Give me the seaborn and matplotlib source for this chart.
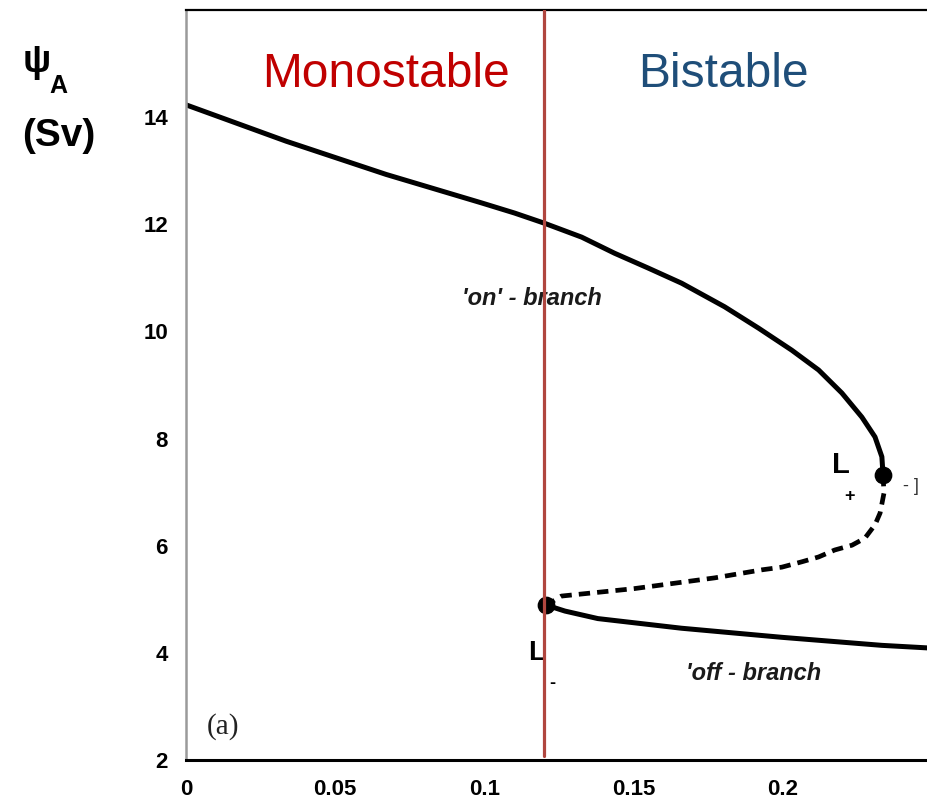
import matplotlib
matplotlib.use("Agg")
import matplotlib.pyplot as plt
import seaborn as sns
import pandas as pd

# ---- data ----
on_mu = [0.0, 0.0336, 0.0671, 0.099, 0.1101, 0.1201, 0.1326, 0.1436, 0.155,
         0.1661, 0.1805, 0.1919, 0.203, 0.212, 0.2198, 0.2265, 0.2309,
         0.2332, 0.2336]
on_psi = [14.23, 13.55, 12.93, 12.40, 12.21, 12.02, 11.76, 11.46, 11.18,
          10.90, 10.46, 10.06, 9.65, 9.28, 8.85, 8.40, 8.03, 7.66, 7.32]

unst_mu = [0.2336, 0.2339, 0.2326, 0.2309, 0.2275, 0.2232, 0.2174, 0.212,
           0.2064, 0.1997, 0.193, 0.1772, 0.1503, 0.1258, 0.1208]
unst_psi = [7.32, 6.98, 6.61, 6.39, 6.14, 6.01, 5.92, 5.79, 5.70, 5.60,
            5.55, 5.40, 5.20, 5.06, 4.89]

off_mu = [0.1208, 0.127, 0.138, 0.166, 0.1997, 0.2332, 0.2493]
off_psi = [4.89, 4.78, 4.64, 4.46, 4.29, 4.14, 4.09]

fold_mu = [0.2336, 0.1208]
fold_psi = [7.32, 4.89]
fold_names = ["L+", "L-"]

boundary_mu = 0.12
xticks = [0, 0.05, 0.1, 0.15, 0.2]
xticklabels = ["0", "0.05", "0.1", "0.15", "0.2"]
yticks = [2, 4, 6, 8, 10, 12, 14]
region_labels = ["Monostable", "Bistable"]

sns.set_style("white")
plt.rcParams["font.family"] = ["Liberation Sans", "DejaVu Sans"]
plt.rcParams["text.color"] = "black"
plt.rcParams["xtick.labelcolor"] = "black"
plt.rcParams["ytick.labelcolor"] = "black"

W, H = 928, 795
fig = plt.figure(figsize=(W / 100, H / 100), dpi=100)
ax_left, ax_bottom, ax_top = 186, 760, 10
ax = fig.add_axes([ax_left / W, (H - ax_bottom) / H, 746 / W, (ax_bottom - ax_top) / H])
ax.set_xlim(0, 0.25)
ax.set_ylim(2, 16)

on_df = pd.DataFrame({"mu": on_mu, "psi": on_psi})
unst_df = pd.DataFrame({"mu": unst_mu, "psi": unst_psi})
off_df = pd.DataFrame({"mu": off_mu, "psi": off_psi})
fold_df = pd.DataFrame({"mu": fold_mu, "psi": fold_psi, "name": fold_names})

sns.lineplot(data=on_df, x="mu", y="psi", sort=False, estimator=None, ax=ax,
             color="black", linewidth=3.6, solid_capstyle="round",
             solid_joinstyle="round")
sns.lineplot(data=unst_df, x="mu", y="psi", sort=False, estimator=None, ax=ax,
             color="black", linewidth=3.4, linestyle=(0, (2.4, 1.5)))
sns.lineplot(data=off_df, x="mu", y="psi", sort=False, estimator=None, ax=ax,
             color="black", linewidth=3.6, solid_capstyle="round",
             solid_joinstyle="round")
sns.scatterplot(data=fold_df, x="mu", y="psi", ax=ax, color="black", s=140,
                edgecolor="black", zorder=5)

ax.axvline(boundary_mu, ymin=0.006, ymax=1, color="#B0463F", linewidth=2.3, zorder=6)

# spines
ax.spines["right"].set_visible(False)
ax.spines["left"].set_color("#9a9a9a")
ax.spines["left"].set_linewidth(1.8)
ax.spines["bottom"].set_color("black")
ax.spines["bottom"].set_linewidth(2.2)
ax.spines["top"].set_color("black")
ax.spines["top"].set_linewidth(1.6)

ax.set_xticks(xticks)
ax.set_xticklabels(xticklabels)
ax.set_yticks(yticks)
ax.tick_params(axis="both", direction="in", length=9, width=1.3, color="#8a8a8a",
               labelsize=16, labelcolor="black")
ax.tick_params(axis="y", pad=13)
ax.tick_params(axis="x", pad=14)
for lab in ax.get_xticklabels() + ax.get_yticklabels():
    lab.set_fontweight("bold")
ax.set_xlabel("")
ax.set_ylabel("")

# region titles
ax.text(0.0669, 14.56, region_labels[0], color="#C00000", fontsize=34.5,
        ha="center", va="baseline")
ax.text(0.1802, 14.56, region_labels[1], color="#1F4E79", fontsize=34.5,
        ha="center", va="baseline")

# branch labels
ax.text(0.1158, 10.62, "'on' - branch", fontsize=17, fontweight="bold",
        style="italic", color="#1a1a1a", ha="center", va="center")
ax.text(0.1903, 3.62, "'off - branch", fontsize=17, fontweight="bold",
        style="italic", color="#1a1a1a", ha="center", va="center")

# fold point labels
ax.text(0.2195, 7.5, "L", fontsize=21, fontweight="bold", ha="center",
        va="center", color="black")
ax.text(0.2222, 6.92, "+", fontsize=13, fontweight="bold", ha="center",
        va="center", color="black")
ax.text(0.1175, 4.0, "L", fontsize=20, fontweight="bold", ha="center",
        va="center", color="black")
ax.text(0.1228, 3.42, "-", fontsize=13, fontweight="bold", ha="center",
        va="center", color="black")
ax.text(0.243, 7.1, "- ]", fontsize=13, ha="center", va="center", color="#333333")

# panel label
ax.text(0.0124, 2.62, "(a)", fontsize=21, family=["Liberation Serif", "DejaVu Serif"],
        ha="center", va="center", color="#222222")

# y axis label
fig.text(23 / W, 1 - 72 / H, "\u03c8", fontsize=27, fontweight="bold",
         ha="left", va="baseline", color="black")
fig.text(49 / W, 1 - 93 / H, "A", fontsize=18, fontweight="bold",
         ha="left", va="baseline", color="black")
fig.text(22 / W, 1 - 146 / H, "(Sv)", fontsize=28, fontweight="bold",
         ha="left", va="baseline", color="black")

fig.savefig("out.png", dpi=100)
